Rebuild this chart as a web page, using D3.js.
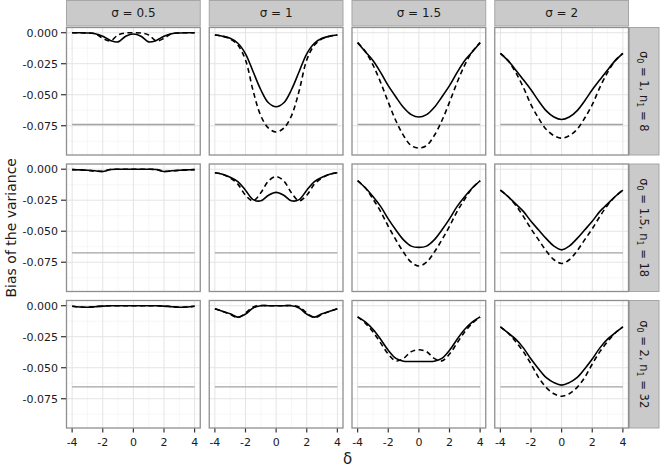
<!DOCTYPE html>
<html>
<head>
<meta charset="utf-8">
<script src="https://cdnjs.cloudflare.com/ajax/libs/d3/7.8.5/d3.min.js"></script>
<style>
  body { margin: 0; background: #fff; }
  svg { display: block; }
  text { font-family: "DejaVu Sans", "Liberation Sans", sans-serif; fill: #1a1a1a; }
</style>
</head>
<body>
<div id="chart"></div>
<script>
// x values shared by every panel
var delta = [-4, -3.5, -3, -2.5, -2, -1.5, -1, -0.5, 0, 0.5, 1, 1.5, 2, 2.5, 3, 3.5, 4];

var colLabels = ["0.5", "1", "1.5", "2"];
var sigma0 = ["1", "1.5", "2"];
var n1 = ["8", "18", "32"];
var refLine = [-0.074, -0.0675, -0.0655];

var xTicks = [-4, -2, 0, 2, 4];
var xMinor = [-3, -1, 1, 3];
var yTicks = [0, -0.025, -0.05, -0.075];
var yMinor = [-0.0125, -0.0375, -0.0625, -0.0875];

// row 1 : sigma0 = 1, n1 = 8
var solid_r1c1 = [0, 0, -0.0002, -0.0008, -0.0028, -0.0062, -0.0074, -0.0028, -0.001, -0.0028, -0.0074, -0.0062, -0.0028, -0.0008, -0.0002, 0, 0];
var dash_r1c1  = [0, 0, -0.0002, -0.0008, -0.0045, -0.0066, -0.0018, -0.0002, 0, -0.0002, -0.0018, -0.0066, -0.0045, -0.0008, -0.0002, 0, 0];
var solid_r1c2 = [-0.0019, -0.0028, -0.0045, -0.0085, -0.017, -0.0315, -0.046, -0.0565, -0.0597, -0.0565, -0.046, -0.0315, -0.017, -0.0085, -0.0045, -0.0028, -0.0019];
var dash_r1c2  = [-0.0019, -0.0028, -0.005, -0.010, -0.022, -0.047, -0.067, -0.077, -0.080, -0.077, -0.067, -0.047, -0.022, -0.010, -0.005, -0.0028, -0.0019];
var solid_r1c3 = [-0.008, -0.0153, -0.0224, -0.032, -0.0427, -0.0518, -0.0603, -0.066, -0.068, -0.066, -0.0603, -0.0518, -0.0427, -0.032, -0.0224, -0.0153, -0.008];
var dash_r1c3  = [-0.008, -0.015, -0.026, -0.040, -0.056, -0.071, -0.083, -0.091, -0.093, -0.091, -0.083, -0.071, -0.056, -0.040, -0.026, -0.015, -0.008];
var solid_r1c4 = [-0.0166, -0.0225, -0.030, -0.038, -0.046, -0.055, -0.063, -0.068, -0.070, -0.068, -0.063, -0.055, -0.046, -0.038, -0.030, -0.0225, -0.0166];
var dash_r1c4  = [-0.0166, -0.0225, -0.032, -0.044, -0.058, -0.069, -0.078, -0.083, -0.085, -0.083, -0.078, -0.069, -0.058, -0.044, -0.032, -0.0225, -0.0166];

// row 2 : sigma0 = 1.5, n1 = 18
var solid_r2c1 = [-0.0003, -0.0005, -0.0008, -0.0013, -0.0019, -0.0003, 0, 0, 0, 0, 0, -0.0003, -0.0019, -0.0013, -0.0008, -0.0005, -0.0003];
var dash_r2c1  = [-0.0003, -0.0005, -0.0009, -0.0014, -0.0016, -0.0003, 0, 0, 0, 0, 0, -0.0003, -0.0016, -0.0014, -0.0009, -0.0005, -0.0003];
var solid_r2c2 = [-0.0028, -0.004, -0.0065, -0.010, -0.017, -0.0245, -0.0255, -0.021, -0.0187, -0.021, -0.0255, -0.0245, -0.017, -0.010, -0.0065, -0.004, -0.0028];
var dash_r2c2  = [-0.0028, -0.004, -0.007, -0.012, -0.021, -0.0255, -0.019, -0.0095, -0.006, -0.0095, -0.019, -0.0255, -0.021, -0.012, -0.007, -0.004, -0.0028];
var solid_r2c3 = [-0.0093, -0.015, -0.022, -0.030, -0.040, -0.049, -0.057, -0.062, -0.063, -0.062, -0.057, -0.049, -0.040, -0.030, -0.022, -0.015, -0.0093];
var dash_r2c3  = [-0.0093, -0.015, -0.024, -0.034, -0.046, -0.057, -0.067, -0.075, -0.078, -0.075, -0.067, -0.057, -0.046, -0.034, -0.024, -0.015, -0.0093];
var solid_r2c4 = [-0.0168, -0.022, -0.028, -0.034, -0.042, -0.049, -0.056, -0.062, -0.065, -0.062, -0.056, -0.049, -0.042, -0.034, -0.028, -0.022, -0.0168];
var dash_r2c4  = [-0.0168, -0.022, -0.029, -0.038, -0.048, -0.057, -0.066, -0.073, -0.076, -0.073, -0.066, -0.057, -0.048, -0.038, -0.029, -0.022, -0.0168];

// row 3 : sigma0 = 2, n1 = 32
var solid_r3c1 = [-0.0005, -0.001, -0.0012, -0.0008, -0.0003, 0, 0, 0, 0, 0, 0, 0, -0.0003, -0.0008, -0.0012, -0.001, -0.0005];
var dash_r3c1  = [-0.0005, -0.001, -0.0013, -0.0007, -0.0002, 0, 0, 0, 0, 0, 0, 0, -0.0002, -0.0007, -0.0013, -0.001, -0.0005];
var solid_r3c2 = [-0.0024, -0.0045, -0.0065, -0.0092, -0.0068, -0.0018, 0, 0, 0, 0, 0, -0.0018, -0.0068, -0.0092, -0.0065, -0.0045, -0.0024];
var dash_r3c2  = [-0.0024, -0.0045, -0.007, -0.0095, -0.0058, -0.001, 0.0001, 0, 0, 0, 0.0001, -0.001, -0.0058, -0.0095, -0.007, -0.0045, -0.0024];
var solid_r3c3 = [-0.009, -0.013, -0.019, -0.027, -0.036, -0.0425, -0.0448, -0.045, -0.045, -0.045, -0.0448, -0.0425, -0.036, -0.027, -0.019, -0.013, -0.009];
var dash_r3c3  = [-0.009, -0.014, -0.021, -0.030, -0.039, -0.0445, -0.0425, -0.037, -0.0355, -0.037, -0.0425, -0.0445, -0.039, -0.030, -0.021, -0.014, -0.009];
var solid_r3c4 = [-0.017, -0.022, -0.027, -0.034, -0.043, -0.051, -0.058, -0.062, -0.064, -0.062, -0.058, -0.051, -0.043, -0.034, -0.027, -0.022, -0.017];
var dash_r3c4  = [-0.017, -0.022, -0.029, -0.037, -0.047, -0.058, -0.066, -0.071, -0.073, -0.071, -0.066, -0.058, -0.047, -0.037, -0.029, -0.022, -0.017];

var solid = [
    [solid_r1c1, solid_r1c2, solid_r1c3, solid_r1c4],
    [solid_r2c1, solid_r2c2, solid_r2c3, solid_r2c4],
    [solid_r3c1, solid_r3c2, solid_r3c3, solid_r3c4]
];
var dashed = [
    [dash_r1c1, dash_r1c2, dash_r1c3, dash_r1c4],
    [dash_r2c1, dash_r2c2, dash_r2c3, dash_r2c4],
    [dash_r3c1, dash_r3c2, dash_r3c3, dash_r3c4]
];

// layout
var W = 660, H = 469;
var plotLeft = 66, plotTop = 27;
var panelW = 134.75, panelH = 128.5, gap = 8;
var stripH = 26.5, stripW = 30.5;

var x = d3.scaleLinear().domain([-4.4, 4.4]).range([0, panelW]);
var y = d3.scaleLinear().domain([-0.099, 0.0046]).range([panelH, 0]);

var line = d3.line()
    .x(function (d) { return x(d[0]); })
    .y(function (d) { return y(d[1]); })
    .curve(d3.curveCatmullRom.alpha(0.5));

var svg = d3.select("#chart").append("svg")
    .attr("width", W)
    .attr("height", H);

svg.append("rect").attr("width", W).attr("height", H).attr("fill", "#fff");

for (var r = 0; r < 3; r++) {
    for (var c = 0; c < 4; c++) {
        var px = plotLeft + c * (panelW + gap);
        var py = plotTop + r * (panelH + gap);
        var g = svg.append("g").attr("transform", "translate(" + px + "," + py + ")");

        g.append("rect").attr("width", panelW).attr("height", panelH).attr("fill", "#fff");

        // minor grid
        g.selectAll(".xmin").data(xMinor).enter().append("line")
            .attr("x1", function (d) { return x(d); }).attr("x2", function (d) { return x(d); })
            .attr("y1", 0).attr("y2", panelH)
            .attr("stroke", "#f2f2f2").attr("stroke-width", 0.6);
        g.selectAll(".ymin").data(yMinor).enter().append("line")
            .attr("y1", function (d) { return y(d); }).attr("y2", function (d) { return y(d); })
            .attr("x1", 0).attr("x2", panelW)
            .attr("stroke", "#f2f2f2").attr("stroke-width", 0.6);
        // major grid
        g.selectAll(".xmaj").data(xTicks).enter().append("line")
            .attr("x1", function (d) { return x(d); }).attr("x2", function (d) { return x(d); })
            .attr("y1", 0).attr("y2", panelH)
            .attr("stroke", "#e4e4e4").attr("stroke-width", 1);
        g.selectAll(".ymaj").data(yTicks).enter().append("line")
            .attr("y1", function (d) { return y(d); }).attr("y2", function (d) { return y(d); })
            .attr("x1", 0).attr("x2", panelW)
            .attr("stroke", "#e4e4e4").attr("stroke-width", 1);

        // reference level
        g.append("line")
            .attr("x1", x(-4)).attr("x2", x(4))
            .attr("y1", y(refLine[r])).attr("y2", y(refLine[r]))
            .attr("stroke", "#a3a3a3").attr("stroke-width", 1.3);

        var s = delta.map(function (d, i) { return [d, solid[r][c][i]]; });
        var k = delta.map(function (d, i) { return [d, dashed[r][c][i]]; });

        g.append("path").attr("d", line(k))
            .attr("fill", "none").attr("stroke", "#000")
            .attr("stroke-width", 1.6).attr("stroke-dasharray", "5,3.5");
        g.append("path").attr("d", line(s))
            .attr("fill", "none").attr("stroke", "#000")
            .attr("stroke-width", 1.6);

        g.append("rect").attr("x", 0.5).attr("y", 0.5)
            .attr("width", panelW - 1).attr("height", panelH - 1)
            .attr("fill", "none").attr("stroke", "#8f8f8f").attr("stroke-width", 1.3);

        // y axis on first column
        if (c === 0) {
            g.selectAll(".yt").data(yTicks).enter().append("line")
                .attr("x1", -5).attr("x2", 0)
                .attr("y1", function (d) { return y(d); }).attr("y2", function (d) { return y(d); })
                .attr("stroke", "#333").attr("stroke-width", 1.2);
            g.selectAll(".yl").data(yTicks).enter().append("text")
                .attr("x", -8).attr("y", function (d) { return y(d); })
                .attr("dy", "0.35em").attr("text-anchor", "end")
                .style("font-size", "11px")
                .text(function (d) { return d3.format(".3f")(d).replace("−", "-"); });
        }
        // x axis on last row
        if (r === 2) {
            g.selectAll(".xt").data(xTicks).enter().append("line")
                .attr("x1", function (d) { return x(d); }).attr("x2", function (d) { return x(d); })
                .attr("y1", panelH).attr("y2", panelH + 4)
                .attr("stroke", "#333").attr("stroke-width", 1.2);
            g.selectAll(".xl").data(xTicks).enter().append("text")
                .attr("x", function (d) { return x(d); }).attr("y", panelH + 17)
                .attr("text-anchor", "middle")
                .style("font-size", "11px")
                .text(function (d) { return d; });
        }
    }
}

// top strips
for (var c = 0; c < 4; c++) {
    var sx = plotLeft + c * (panelW + gap);
    svg.append("rect").attr("x", sx + 0.5).attr("y", 0.5)
        .attr("width", panelW - 1).attr("height", stripH - 1)
        .attr("fill", "#cacaca").attr("stroke", "#a6a6a6").attr("stroke-width", 1);
    svg.append("text").attr("x", sx + panelW / 2).attr("y", stripH / 2)
        .attr("dy", "0.35em").attr("text-anchor", "middle")
        .style("font-size", "12px")
        .text("σ = " + colLabels[c]);
}

// right strips
var stripX = plotLeft + 4 * panelW + 3 * gap;
for (var r = 0; r < 3; r++) {
    var sy = plotTop + r * (panelH + gap);
    svg.append("rect").attr("x", stripX + 0.5).attr("y", sy + 0.5)
        .attr("width", stripW - 1).attr("height", panelH - 1)
        .attr("fill", "#cacaca").attr("stroke", "#a6a6a6").attr("stroke-width", 1);
    var t = svg.append("text")
        .attr("transform", "translate(" + (stripX + stripW / 2) + "," + (sy + panelH / 2) + ") rotate(90)")
        .attr("text-anchor", "middle").attr("dy", "0.35em")
        .style("font-size", "11.5px");
    t.append("tspan").text("σ");
    t.append("tspan").attr("dy", 3).style("font-size", "8px").text("0");
    t.append("tspan").attr("dy", -3).text(" = " + sigma0[r] + ", n");
    t.append("tspan").attr("dy", 3).style("font-size", "8px").text("1");
    t.append("tspan").attr("dy", -3).text(" = " + n1[r]);
}

// axis titles
var plotBottom = plotTop + 3 * panelH + 2 * gap;
svg.append("text")
    .attr("transform", "translate(16," + ((plotTop + plotBottom) / 2) + ") rotate(-90)")
    .attr("text-anchor", "middle")
    .style("font-size", "14px")
    .text("Bias of the variance");
svg.append("text")
    .attr("x", plotLeft + (4 * panelW + 3 * gap) / 2).attr("y", 464)
    .attr("text-anchor", "middle")
    .style("font-size", "15px")
    .text("δ");
</script>
</body>
</html>
